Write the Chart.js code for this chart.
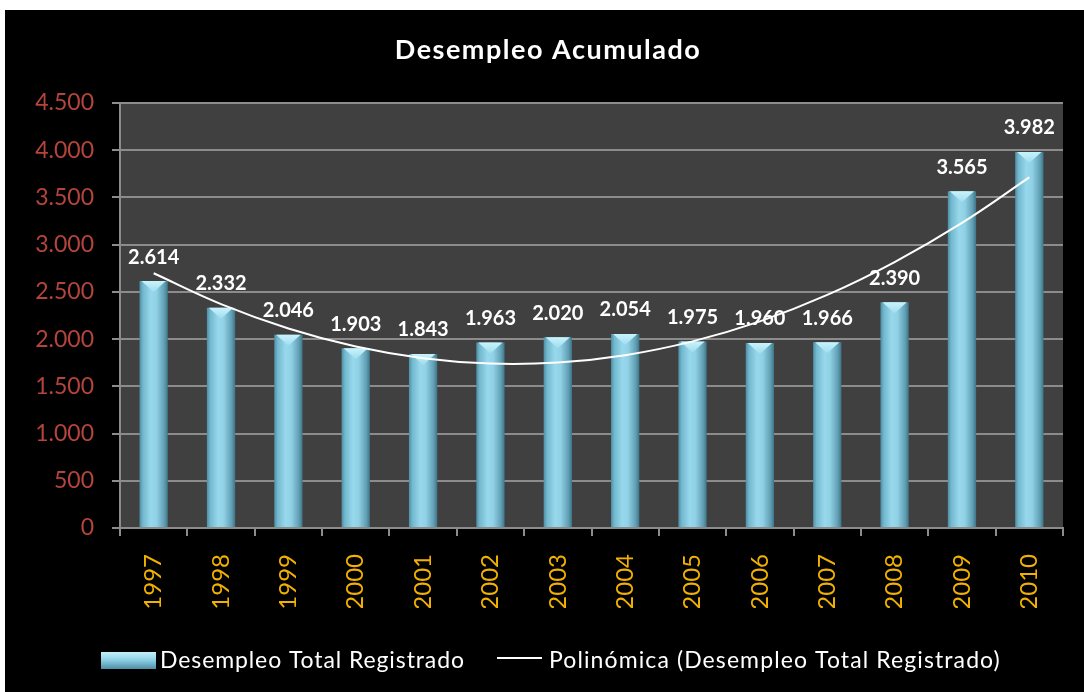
<!DOCTYPE html>
<html><head><meta charset="utf-8">
<script src="https://cdn.jsdelivr.net/npm/chart.js@4"></script>
<style>
html,body{margin:0;padding:0;background:#fff;width:1084px;height:692px;overflow:hidden}
#wrap{position:absolute;left:5px;top:10px;width:1079px;height:682px;background:#000}
canvas{display:block}
</style></head><body>
<div id="wrap"><canvas id="c" width="1079" height="682"></canvas></div>
<script>
const categories = ['1997','1998','1999','2000','2001','2002','2003','2004','2005','2006','2007','2008','2009','2010'];
const desempleo = [2614,2332,2046,1903,1843,1963,2020,2054,1975,1960,1966,2390,3565,3982];
const tendencia = [2697,2371,2113,1922,1798,1741,1752,1830,1976,2188,2468,2816,3230,3712];
const yTicks = [0,500,1000,1500,2000,2500,3000,3500,4000,4500];
const titleText = 'Desempleo Acumulado';
const seriesName = 'Desempleo Total Registrado';
const trendName = 'Polinómica (Desempleo Total Registrado)';

const FONT = 'Lato, "Open Sans", sans-serif';
function fmt(v){ return String(v).replace(/\B(?=(\d{3})+(?!\d))/g,'.'); }

function barGradient(ctx){
  const chart = ctx.chart;
  const xs = chart.scales && chart.scales.x;
  if (!xs || ctx.dataIndex === undefined) return '#7fc6dc';
  const cx = xs.getPixelForValue(ctx.dataIndex);
  const w = (xs.width / categories.length) * 0.42;
  if (!isFinite(cx) || !isFinite(w) || w <= 0) return '#7fc6dc';
  const g = chart.ctx.createLinearGradient(cx - w/2, 0, cx + w/2, 0);
  g.addColorStop(0, '#4f8ea4');
  g.addColorStop(0.12, '#72b8ce');
  g.addColorStop(0.4, '#98d8ec');
  g.addColorStop(0.6, '#90d1e6');
  g.addColorStop(0.88, '#5f9db2');
  g.addColorStop(1, '#3f7487');
  return g;
}

const bgPlugin = {
  id: 'bg',
  beforeDraw(chart){
    const {ctx, chartArea:a} = chart;
    ctx.save();
    ctx.fillStyle = '#404040';
    ctx.fillRect(a.left, a.top, a.right - a.left, a.bottom - a.top);
    ctx.restore();
  }
};

const capPlugin = {
  id: 'caps',
  afterDatasetDraw(chart, args){
    if (args.index !== 0) return;
    const ctx = chart.ctx;
    const meta = chart.getDatasetMeta(0);
    ctx.save();
    meta.data.forEach(el => {
      const l = el.x - el.width/2, r = el.x + el.width/2;
      const g = ctx.createLinearGradient(0, el.y, 0, el.y + 11);
      g.addColorStop(0, '#c8f3fb');
      g.addColorStop(1, '#9fdcee');
      ctx.fillStyle = g;
      ctx.beginPath();
      ctx.moveTo(l + 2, el.y);
      ctx.lineTo(r - 2, el.y);
      ctx.lineTo(el.x, el.y + 11);
      ctx.closePath();
      ctx.fill();
    });
    ctx.restore();
  }
};

const labelPlugin = {
  id: 'labels',
  afterDatasetsDraw(chart){
    const ctx = chart.ctx;
    const meta = chart.getDatasetMeta(0);
    ctx.save();
    ctx.fillStyle = '#ffffff';
    ctx.font = 'bold 20px ' + FONT;
    ctx.textAlign = 'center';
    ctx.textBaseline = 'middle';
    meta.data.forEach((el, i) => {
      ctx.fillText(fmt(desempleo[i]), el.x, el.y - 24);
    });
    ctx.restore();
  }
};

const decorPlugin = {
  id: 'decor',
  afterDraw(chart){
    const ctx = chart.ctx;
    ctx.save();
    ctx.fillStyle = '#ffffff';
    ctx.font = 'bold 27px ' + FONT;
    ctx.letterSpacing = '1.5px';
    ctx.textAlign = 'center';
    ctx.textBaseline = 'middle';
    ctx.fillText(titleText, 543, 40);
    const g = ctx.createLinearGradient(0, 642, 0, 659);
    g.addColorStop(0, '#c4f1fb');
    g.addColorStop(0.45, '#8fd2e8');
    g.addColorStop(1, '#4f8ea4');
    ctx.fillStyle = g;
    ctx.fillRect(96, 642, 55, 17);
    ctx.fillStyle = '#ffffff';
    ctx.font = '23px ' + FONT;
    ctx.letterSpacing = '0.9px';
    ctx.textAlign = 'left';
    ctx.fillText(seriesName, 155, 651);
    ctx.strokeStyle = '#ffffff';
    ctx.lineWidth = 2;
    ctx.beginPath();
    ctx.moveTo(492, 648);
    ctx.lineTo(537, 648);
    ctx.stroke();
    ctx.letterSpacing = '1.1px';
    ctx.fillText(trendName, 544, 651);
    ctx.restore();
  }
};

new Chart(document.getElementById('c'), {
  data: {
    labels: categories,
    datasets: [
      {
        type: 'bar',
        label: seriesName,
        data: desempleo,
        backgroundColor: barGradient,
        borderWidth: 0,
        barPercentage: 0.42,
        categoryPercentage: 1,
        order: 2
      },
      {
        type: 'line',
        label: trendName,
        data: tendencia,
        borderColor: '#ffffff',
        borderWidth: 2,
        pointRadius: 0,
        tension: 0.4,
        fill: false,
        order: 1
      }
    ]
  },
  options: {
    responsive: false,
    animation: false,
    layout: { padding: { top: 93, right: 21, bottom: 84, left: 0 } },
    plugins: { legend: { display: false }, title: { display: false }, tooltip: { enabled: false } },
    scales: {
      x: {
        offset: true,
        grid: { display: true, drawOnChartArea: false, drawTicks: true, tickLength: 8, color: '#8c8c8c', lineWidth: 2, offset: true },
        border: { display: true, color: '#8c8c8c', width: 2 },
        ticks: { color: '#f2b100', font: { family: FONT, size: 24 }, minRotation: 90, maxRotation: 90, autoSkip: false, padding: 18 },
        afterFit(s){ s.height = 80; }
      },
      y: {
        min: 0, max: 4500,
        afterBuildTicks(s){ s.ticks = yTicks.map(v => ({ value: v })); },
        grid: { color: '#8c8c8c', lineWidth: 2, tickLength: 8, drawTicks: true },
        border: { display: true, color: '#8c8c8c', width: 2 },
        ticks: { color: '#b5443c', font: { family: FONT, size: 23 }, padding: 18, callback: v => fmt(v) },
        afterFit(s){ s.width = 115; }
      }
    }
  },
  plugins: [bgPlugin, capPlugin, labelPlugin, decorPlugin]
});
</script>
</body></html>
